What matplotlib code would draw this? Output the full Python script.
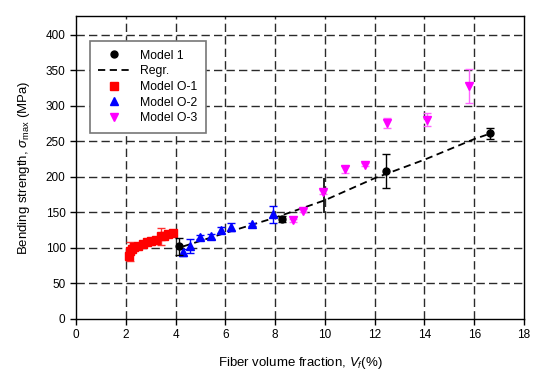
import matplotlib
matplotlib.use('Agg')
import matplotlib.pyplot as plt

plt.rcParams['font.family'] = 'Liberation Sans'
plt.rcParams['mathtext.fontset'] = 'custom'
plt.rcParams['mathtext.rm'] = 'Liberation Sans'
plt.rcParams['mathtext.it'] = 'Liberation Sans:italic'

# Model 1
m1_x = [4.15, 8.27, 12.47, 16.62]
m1_y = [102, 141, 208, 261]
m1_err = [12.5, 4, 23.5, 7.5]

# regression line
reg_x = [4.3, 6.0, 8.0, 10.0, 12.0, 14.0, 16.0, 16.5]
reg_y = [102, 121, 142.5, 167, 198, 224, 253, 259]

# Model O-1
o1_x = [2.12, 2.18, 2.25, 2.35, 2.5, 2.7, 2.85, 3.0, 3.2, 3.4, 3.55, 3.7, 3.9]
o1_y = [89, 95, 99, 101, 103, 106, 108, 109, 111, 116, 117, 119, 121]
o1_err = [0, 13, 0, 0, 0, 0, 4, 0, 0, 12, 0, 3, 0]

# Model O-2
o2_x = [4.31, 4.58, 4.98, 5.41, 5.81, 6.21, 7.06, 7.9]
o2_y = [94, 103, 115, 116, 125.5, 129.5, 133, 147]
o2_err = [5, 10, 3, 4, 4, 6, 2, 12]

# Model O-3
o3_x = [8.73, 9.13, 9.93, 10.8, 11.6, 12.48, 14.11, 15.8]
o3_y = [139, 152.5, 179, 210.5, 217, 276, 280, 327]
o3_err = [2, 2, 3, 5, 2, 7, 9, 24]

# lone vertical bar near Vf = 10
bar_x = [9.95]
bar_lo = [149]
bar_hi = [198]

fig = plt.figure(figsize=(5.34, 3.76), dpi=100)
ax = fig.add_axes([0.1423, 0.1516, 0.8390, 0.8058])

ax.set_xlim(0, 18)
ax.set_ylim(0, 426)
ax.set_xticks(range(0, 19, 2))
ax.set_yticks(range(0, 401, 50))

for v in range(2, 18, 2):
    ax.axvline(v, color='#2a2a2a', lw=1, dashes=(6, 3), zorder=0)
for v in range(50, 401, 50):
    ax.axhline(v, color='#2a2a2a', lw=1, dashes=(6, 3), zorder=0)

ax.vlines(bar_x, bar_lo, bar_hi, color='black', lw=1.2, zorder=2)

ax.plot(reg_x, reg_y, color='black', lw=1.3, dashes=(4, 2.5), label='Regr.', zorder=3)

ax.errorbar(o1_x, o1_y, yerr=o1_err, fmt='s', color='#ff0000', ecolor='#ff3030',
            ms=5.5, capsize=3, elinewidth=1, mec='#ff0000', label='Model O-1', zorder=4)
ax.errorbar(o2_x, o2_y, yerr=o2_err, fmt='^', color='#0000ff', ecolor='#0000ff',
            ms=6, capsize=3, elinewidth=1, label='Model O-2', zorder=4)
ax.errorbar(o3_x, o3_y, yerr=o3_err, fmt='v', color='#ff00ff', ecolor='#ff66ff',
            ms=6, capsize=3, elinewidth=1, label='Model O-3', zorder=4)
ax.errorbar(m1_x, m1_y, yerr=m1_err, fmt='o', color='black', ecolor='black',
            ms=5, capsize=3, elinewidth=1, label='Model 1', zorder=5)

handles, labels = ax.get_legend_handles_labels()
order = ['Model 1', 'Regr.', 'Model O-1', 'Model O-2', 'Model O-3']
hmap = dict(zip(labels, handles))
leg_handles = []
for name in order:
    h = hmap[name]
    if hasattr(h, 'lines'):
        h = h.lines[0]
    leg_handles.append(h)
leg = ax.legend(leg_handles, order, loc='upper left', bbox_to_anchor=(0.031, 0.917),
                fontsize=8.8, frameon=True, fancybox=False, edgecolor='#777777',
                framealpha=1, borderpad=0.7, labelspacing=0.3, handlelength=2.6,
                handletextpad=0.8, borderaxespad=0)
leg.get_frame().set_linewidth(1.2)

ax.tick_params(axis='both', labelsize=8.5, direction='out', length=4, width=1,
               top=False, right=False, colors='black')
for s in ax.spines.values():
    s.set_linewidth(1)

ax.set_xlabel(r'Fiber volume fraction, $\mathit{V}_{\mathit{f}}$(%)', fontsize=9.5, labelpad=10)
ax.set_ylabel(r'Bending strength, $\mathit{\sigma}_{\rm max}$ (MPa)', fontsize=9.5, labelpad=10)

fig.savefig('out.png', dpi=100)
